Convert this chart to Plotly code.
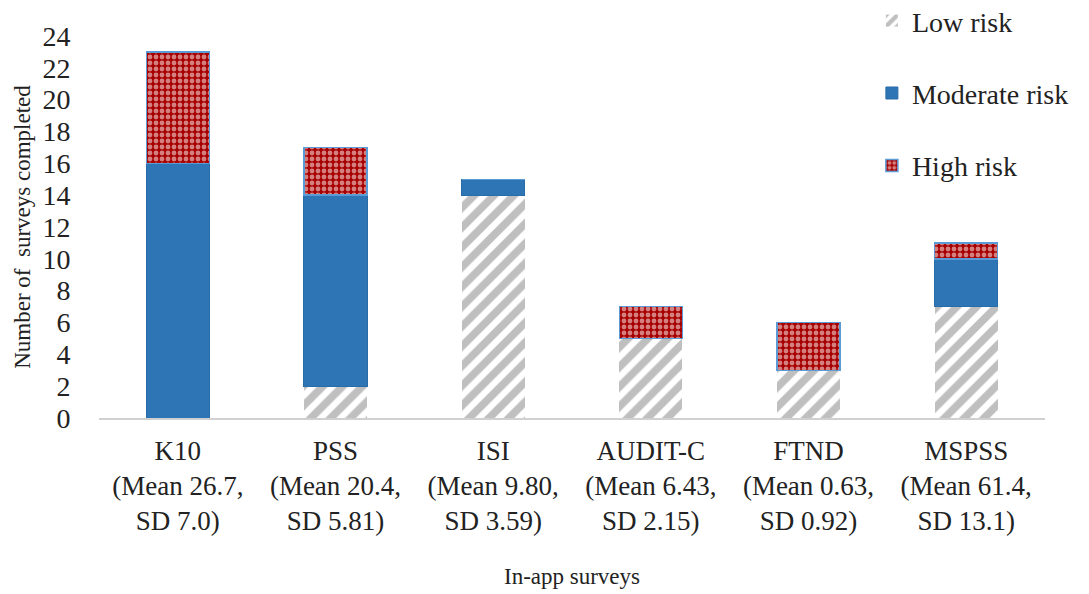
import plotly.graph_objects as go

categories = ["K10<br>(Mean 26.7,<br>SD 7.0)", "PSS<br>(Mean 20.4,<br>SD 5.81)", "ISI<br>(Mean 9.80,<br>SD 3.59)",
              "AUDIT-C<br>(Mean 6.43,<br>SD 2.15)", "FTND<br>(Mean 0.63,<br>SD 0.92)", "MSPSS<br>(Mean 61.4,<br>SD 13.1)"]
low_risk = [0, 2, 14, 5, 3, 7]
moderate_risk = [16, 12, 1, 0, 0, 3]
high_risk = [7, 3, 0, 2, 3, 1]
y_ticks = list(range(0, 25, 2))

FONT = "Liberation Serif"

fig = go.Figure()
fig.add_trace(go.Bar(
    x=categories, y=low_risk, name="Low risk", legendgroup="a",
    marker=dict(color="white", line=dict(width=0),
                pattern=dict(shape="/", fgcolor="#7f7f7f", bgcolor="white", size=14, solidity=0.55)),
))
fig.add_trace(go.Bar(
    x=categories, y=moderate_risk, name="Moderate risk", legendgroup="b",
    marker=dict(color="#2E75B6", line=dict(width=1, color="#2A6CA8")),
))
fig.add_trace(go.Bar(
    x=categories, y=high_risk, name="High risk", legendgroup="c",
    marker=dict(color="#A80000", line=dict(width=1.5, color="#5B9BD5"),
                pattern=dict(shape=".", fgcolor="white", bgcolor="#A80000", size=6, solidity=0.5)),
))

fig.update_layout(
    barmode="stack",
    bargap=0.6,
    width=1081, height=586,
    margin=dict(l=91, r=44, t=28, b=176, autoexpand=False),
    plot_bgcolor="white", paper_bgcolor="white",
    font=dict(family=FONT, size=28, color="#222222"),
    legend=dict(x=0.817, y=1.105, xanchor="left", yanchor="top",
                font=dict(family=FONT, size=28, color="#222222"),
                tracegroupgap=33, bgcolor="rgba(0,0,0,0)",
                itemwidth=30),
    xaxis=dict(
        title=dict(text="In-app surveys", font=dict(family=FONT, size=23, color="#222222"), standoff=33),
        showline=True, linecolor="#d0d0d0", linewidth=1.5,
        showgrid=False, ticks="outside", ticklen=8, tickcolor="white",
        tickfont=dict(family=FONT, size=27, color="#222222"),
    ),
    yaxis=dict(
        title=dict(text="Number of  surveys completed", font=dict(family=FONT, size=23, color="#222222"), standoff=5),
        range=[0, 24], tickvals=y_ticks, showgrid=False, zeroline=False, showline=False,
        ticks="outside", ticklen=22, tickcolor="white",
        tickfont=dict(family=FONT, size=28, color="#222222"),
    ),
)

fig.write_html("out.html")
